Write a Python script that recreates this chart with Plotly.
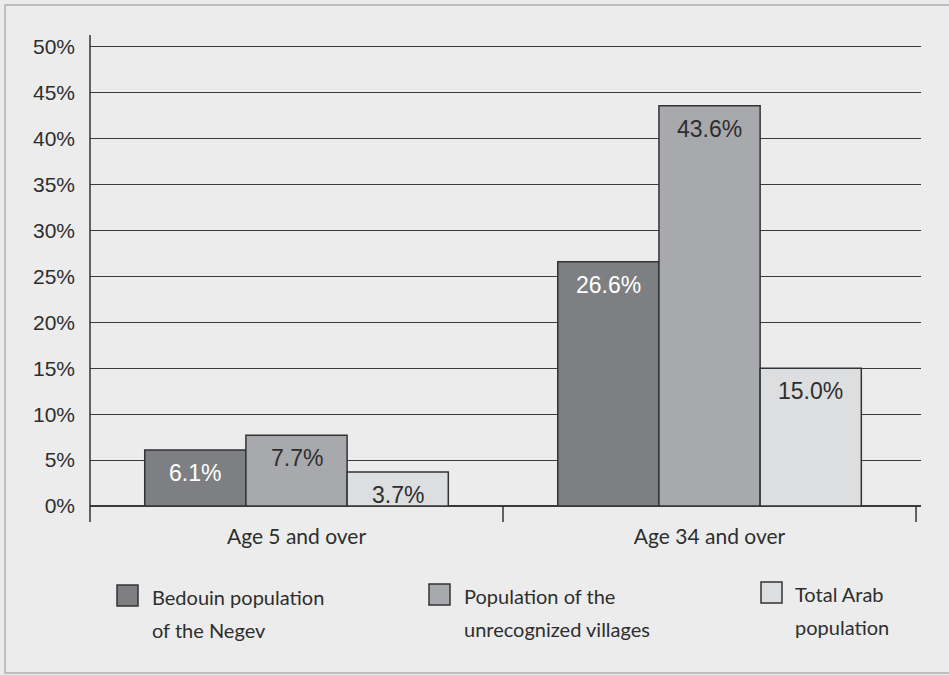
import plotly.graph_objects as go

# Data
categories = ["Age 5 and over", "Age 34 and over"]
series_names = [
    "Bedouin population of the Negev",
    "Population of the unrecognized villages",
    "Total Arab population",
]
legend_lines = [
    ["Bedouin population", "of the Negev"],
    ["Population of the", "unrecognized villages"],
    ["Total Arab", "population"],
]
bedouin_negev = [6.1, 26.6]
unrecognized_villages = [7.7, 43.6]
total_arab = [3.7, 15.0]
series_values = [bedouin_negev, unrecognized_villages, total_arab]
y_ticks = [0, 5, 10, 15, 20, 25, 30, 35, 40, 45, 50]

# Styling
bar_colors = ["#7e7f82", "#a8a9ac", "#dddedf"]
label_colors = ["#ffffff", "#2e2e2e", "#2e2e2e"]
outline = "#333333"
bg = "#ebeceb"
num_font = "Liberation Sans"
text_font = "Lato"

W, H = 949, 675
ML, MR, MT, MB = 90, 28, 35, 169
plot_w = W - ML - MR
plot_h = H - MT - MB

BARGAP = 0.265
bar_w = (1 - BARGAP) / len(series_values)
x_pos = list(range(len(categories)))

fig = go.Figure()
for i, (name, vals) in enumerate(zip(series_names, series_values)):
    fig.add_trace(go.Bar(
        x=x_pos, y=vals, name=name,
        marker=dict(color=bar_colors[i], line=dict(color=outline, width=1.5)),
        showlegend=False,
        hovertemplate="%{y:.1f}%<extra>" + name + "</extra>",
    ))

# Value labels just below the top of each bar
annotations = []
for i, vals in enumerate(series_values):
    for xc, v in zip(x_pos, vals):
        annotations.append(dict(
            x=xc + (i - 1) * bar_w, y=v, xref="x", yref="y",
            text=f"{v:.1f}%", showarrow=False,
            yanchor="middle", yshift=-23,
            font=dict(family=num_font, size=23, color=label_colors[i]),
        ))

def px_x(p):
    return (p - ML) / plot_w

def px_y(p):
    return (H - MB - p) / plot_h

# Hand-built legend: swatch plus two-line caption
legend_swatch_x = [117, 429, 761]
legend_swatch_y = [585, 584, 582]
legend_text_x = [150, 462, 793]
shapes = []
for i in range(len(series_names)):
    sx, sy = legend_swatch_x[i], legend_swatch_y[i]
    shapes.append(dict(
        type="rect", xref="paper", yref="paper",
        x0=px_x(sx), x1=px_x(sx + 21), y0=px_y(sy), y1=px_y(sy + 21),
        fillcolor=bar_colors[i], line=dict(color=outline, width=1.5),
    ))
    for j, line in enumerate(legend_lines[i]):
        annotations.append(dict(
            x=px_x(legend_text_x[i]), y=px_y(sy + 12 + 33 * j),
            xref="paper", yref="paper", xanchor="left", yanchor="middle",
            text=line, showarrow=False,
            font=dict(family=text_font, size=20, color="#2e2e2e"),
        ))

# Left axis line extending slightly past the plot, and category divider ticks
tick_drop = 16 / plot_h
shapes.append(dict(type="line", xref="paper", yref="paper",
                   x0=0, x1=0, y0=-tick_drop, y1=1,
                   line=dict(color=outline, width=1.5)))
for xb in [0.5, 1.5]:
    shapes.append(dict(type="line", xref="x", yref="paper",
                       x0=xb, x1=xb, y0=-tick_drop, y1=0,
                       line=dict(color=outline, width=1.5)))

# Outer frame
shapes.append(dict(type="rect", xref="paper", yref="paper",
                   x0=px_x(5), x1=px_x(960), y0=px_y(673), y1=px_y(5),
                   line=dict(color="#b0b0b0", width=1.5), layer="below"))

fig.update_layout(
    width=W, height=H,
    margin=dict(l=ML, r=MR, t=MT, b=MB),
    paper_bgcolor=bg, plot_bgcolor=bg,
    barmode="group", bargap=BARGAP, bargroupgap=0,
    showlegend=False,
    shapes=shapes, annotations=annotations,
    xaxis=dict(
        range=[-0.5, 1.512], tickmode="array", tickvals=x_pos, ticktext=categories,
        showgrid=False, zeroline=False, showline=False, ticks="",
        tickfont=dict(family=text_font, size=21, color="#2e2e2e"),
        ticklabelstandoff=16, fixedrange=True,
    ),
    yaxis=dict(
        range=[0, 51.3], tickmode="array", tickvals=y_ticks,
        ticktext=[f"{t}%" for t in y_ticks],
        showgrid=True, gridcolor="#3a3a3a", gridwidth=1.2,
        zeroline=True, zerolinecolor="#3a3a3a", zerolinewidth=1.5,
        showline=False, ticks="",
        tickfont=dict(family=num_font, size=21, color="#2e2e2e"),
        ticklabelstandoff=14, fixedrange=True,
    ),
)

fig.write_html("out.html")
